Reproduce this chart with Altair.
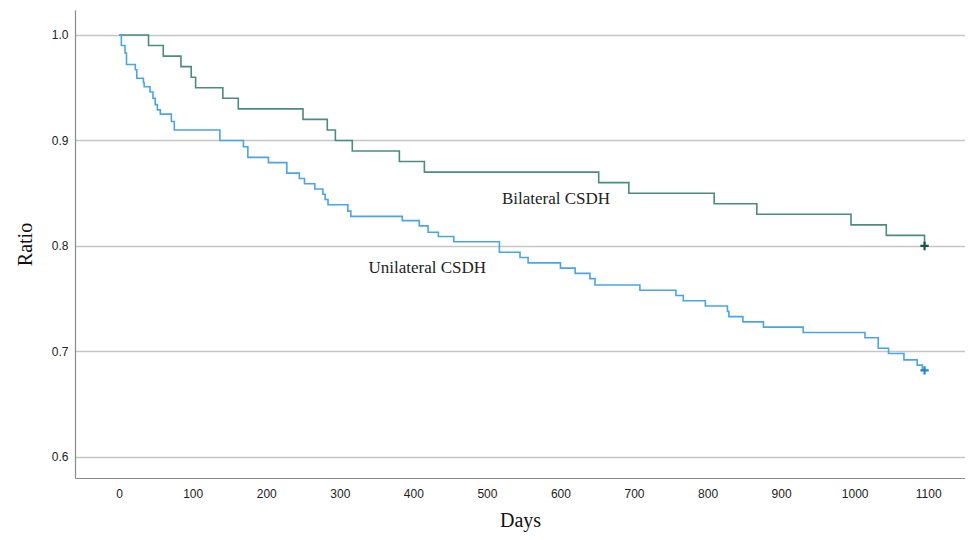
import altair as alt
import pandas as pd

# Kaplan-Meier style step curves (days, ratio)
bilateral_days = [0, 40, 60, 84, 98, 104, 141, 162, 250, 283, 294, 317, 381, 415,
                  652, 693, 809, 867, 995, 1043, 1095]
bilateral_vals = [1.00, 0.99, 0.98, 0.97, 0.96, 0.95, 0.94, 0.93, 0.92, 0.91, 0.90,
                  0.89, 0.88, 0.87, 0.86, 0.85, 0.84, 0.83, 0.82, 0.81, 0.80]

unilateral_days = [0, 3, 8, 10, 22, 24, 33, 34, 42, 46, 49, 52, 56, 71, 75, 137,
                   169, 175, 203, 228, 245, 252, 266, 277, 280, 284, 311, 315,
                   385, 408, 420, 434, 455, 517, 545, 556, 600, 620, 640, 647,
                   708, 757, 767, 797, 827, 829, 848, 876, 930, 1014, 1032, 1046,
                   1067, 1085, 1092, 1095]
unilateral_vals = [1.000, 0.990, 0.983, 0.972, 0.967, 0.959, 0.955, 0.951, 0.946,
                   0.940, 0.934, 0.929, 0.925, 0.918, 0.910, 0.900,
                   0.894, 0.884, 0.879, 0.869, 0.864, 0.859, 0.854, 0.849, 0.844,
                   0.839, 0.833, 0.828,
                   0.824, 0.819, 0.813, 0.809, 0.804, 0.794, 0.789, 0.784, 0.779,
                   0.774, 0.769, 0.763,
                   0.758, 0.753, 0.748, 0.743, 0.738, 0.733, 0.728, 0.723, 0.718,
                   0.713, 0.703, 0.698, 0.692, 0.687, 0.683, 0.682]

groups = ["Bilateral CSDH", "Unilateral CSDH"]
line_colors = ["#4b8c7f", "#4aa5e6"]
marker_colors = ["#12574a", "#1e86d8"]

censor_days = [1095, 1095]
censor_vals = [0.80, 0.682]

label_days = [594, 419]
label_vals = [0.8445, 0.779]

x_ticks = [0, 100, 200, 300, 400, 500, 600, 700, 800, 900, 1000, 1100]
y_ticks = [0.6, 0.7, 0.8, 0.9, 1.0]

curve_df = pd.concat([
    pd.DataFrame({"day": bilateral_days, "ratio": bilateral_vals, "group": groups[0]}),
    pd.DataFrame({"day": unilateral_days, "ratio": unilateral_vals, "group": groups[1]}),
], ignore_index=True)
censor_df = pd.DataFrame({"day": censor_days, "ratio": censor_vals, "group": groups})
label_df = pd.DataFrame({"day": label_days, "ratio": label_vals, "group": groups})

xscale = alt.Scale(domain=[-60, 1150], nice=False, zero=False)
yscale = alt.Scale(domain=[0.58, 1.0237], nice=False, zero=False)

xaxis = alt.Axis(title="Days", values=x_ticks, grid=False, ticks=False,
                 labelPadding=10, titlePadding=11, format="d")
yaxis = alt.Axis(title="Ratio", values=y_ticks, grid=True, ticks=False,
                 format=".1f", labelPadding=7, titlePadding=16,
                 gridColor="#c6c6c6", gridWidth=1.5)

lines = alt.Chart(curve_df).mark_line(interpolate="step-after", strokeWidth=1.6).encode(
    x=alt.X("day:Q", scale=xscale, axis=xaxis),
    y=alt.Y("ratio:Q", scale=yscale, axis=yaxis),
    color=alt.Color("group:N", scale=alt.Scale(domain=groups, range=line_colors), legend=None),
)

markers = alt.Chart(censor_df).mark_point(
    shape="M-1,0H1M0,-1V1", size=70, strokeWidth=2.2, filled=False, opacity=1
).encode(
    x=alt.X("day:Q", scale=xscale),
    y=alt.Y("ratio:Q", scale=yscale),
    stroke=alt.Stroke("group:N", scale=alt.Scale(domain=groups, range=marker_colors), legend=None),
)

labels = alt.Chart(label_df).mark_text(
    font="Liberation Serif", fontSize=17, color="#222222"
).encode(
    x=alt.X("day:Q", scale=xscale),
    y=alt.Y("ratio:Q", scale=yscale),
    text="group:N",
)

chart = alt.layer(lines, markers, labels).properties(
    width=890, height=468,
    autosize=alt.AutoSizeParams(type="none"),
    padding={"left": 67, "top": 2, "right": 0, "bottom": 54},
).resolve_scale(color="independent").configure_view(
    stroke=None
).configure_axis(
    labelFont="Liberation Sans", labelFontSize=12, labelColor="#222222",
    titleFont="Liberation Serif", titleFontSize=20, titleFontWeight="normal",
    titleColor="#111111", domainColor="#8a8a8a", domainWidth=1.2,
)

chart.save("out.html", embed_options={"renderer": "svg", "actions": False})
